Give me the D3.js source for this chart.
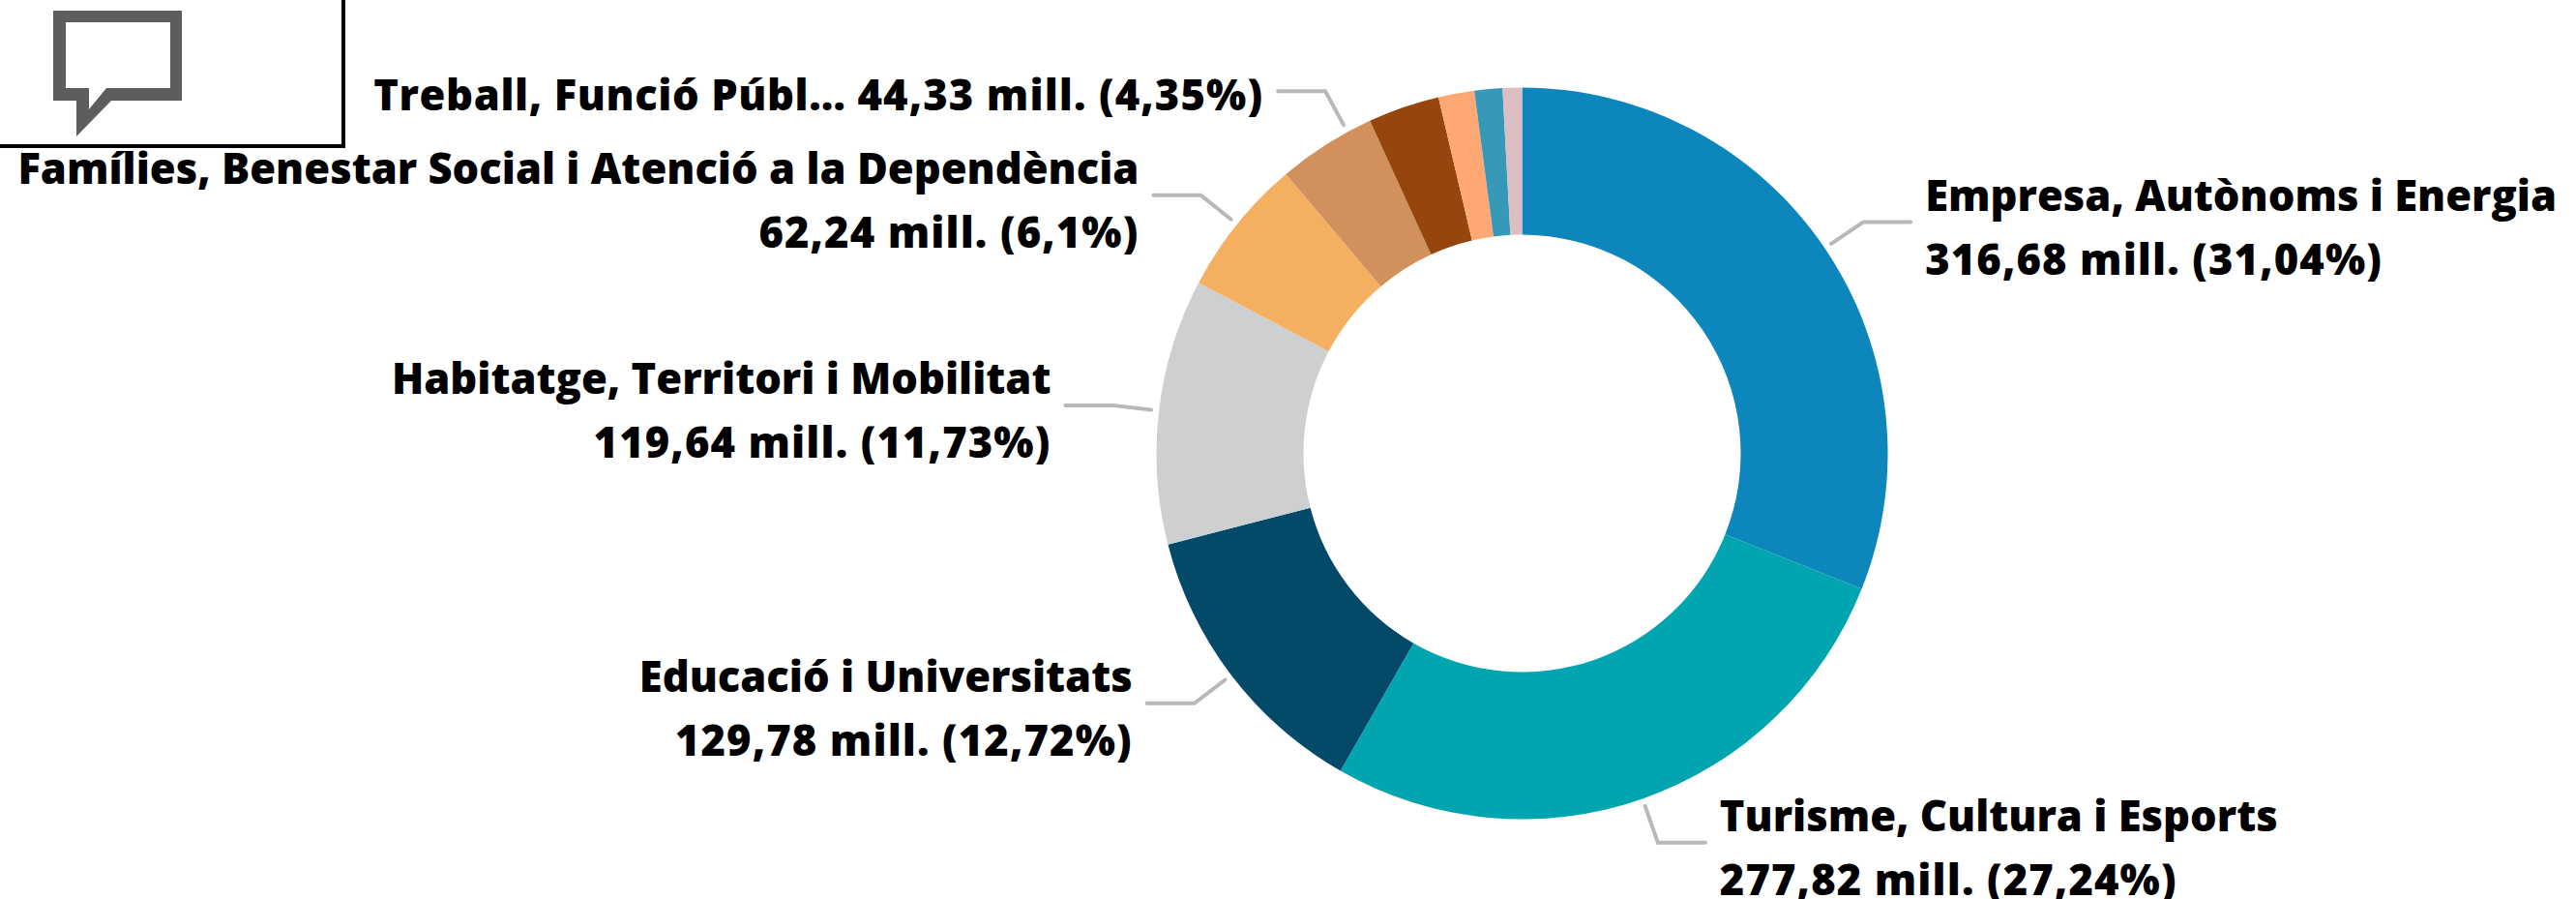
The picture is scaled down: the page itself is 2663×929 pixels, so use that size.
<!DOCTYPE html>
<html><head><meta charset="utf-8">
<script src="https://cdn.jsdelivr.net/npm/d3@7/dist/d3.min.js"></script>
<style>html,body{margin:0;padding:0;background:#fff;overflow:hidden}</style>
</head><body><svg id="c" width="2663" height="929"></svg>
<script>
const categories=["Empresa, Autònoms i Energia","Turisme, Cultura i Esports","Educació i Universitats","Habitatge, Territori i Mobilitat","Famílies, Benestar Social i Atenció a la Dependència","Treball, Funció Públ…","Salut","Acció Exterior","Justícia","Altres"];
const values=[316.68,277.82,129.78,119.64,62.24,44.33,32.2,16.2,12.6,8.7];
const valueLabels=["316,68 mill. (31,04%)","277,82 mill. (27,24%)","129,78 mill. (12,72%)","119,64 mill. (11,73%)","62,24 mill. (6,1%)","44,33 mill. (4,35%)"];
const colors=["#0d87bb","#00a5b0","#024a68","#cdcfd1","#f4b060","#d2905d","#96450c","#ffa874","#3799b8","#dcbfc3"];
const oneLine=[false,false,false,false,false,true];
const leaderNudge=[0,0,0,0,0,0.068];

const svg=d3.select("#c");
const cx=1573.5,cy=468.5,R=378,r=226;
const g=svg.append("g").attr("transform",`translate(${cx},${cy})`);
const pie=d3.pie().sort(null).value(d=>d)(values);
const arc=d3.arc().innerRadius(r).outerRadius(R);
g.selectAll("path.s").data(pie).join("path").attr("class","s").attr("d",arc).attr("fill",(d,i)=>colors[i]);

const font="'Open Sans',sans-serif",fs=43.5,lh=66,vs=1.1;
pie.slice(0,valueLabels.length).forEach((d,i)=>{
  const a=(d.startAngle+d.endAngle)/2+leaderNudge[i];
  const s=Math.sin(a),c=-Math.cos(a);
  const p0=[(R+8)*s,(R+8)*c],p1=[(R+48)*s,(R+48)*c];
  const dir=s>=0?1:-1;
  const p2=[p1[0]+dir*49,p1[1]];
  g.append("path").attr("d",d3.line()([p0,p1,p2])).attr("fill","none").attr("stroke","#b8b8b8").attr("stroke-width",4).attr("stroke-linecap","round");
  const tx=p2[0]+dir*15;
  const t=g.append("text").attr("x",tx).attr("text-anchor",dir>0?"start":"end")
    .attr("font-family",font).attr("font-weight",800).attr("font-size",fs).attr("fill","#000");
  if(oneLine[i]){
    t.attr("y",p2[1]+20);
    t.append("tspan").attr("letter-spacing",0.6).text(categories[i]+" ");
    t.append("tspan").attr("letter-spacing",vs).text(valueLabels[i]);
  }else{
    t.append("tspan").attr("x",tx).attr("y",p2[1]-12).text(categories[i]);
    t.append("tspan").attr("x",tx).attr("y",p2[1]-12+lh).attr("letter-spacing",vs).text(valueLabels[i]);
  }
});

// comment button
svg.append("path").attr("d","M0,151H355V0").attr("fill","none").attr("stroke","#000").attr("stroke-width",4);
svg.append("path").attr("fill","#5f5d5b").attr("fill-rule","evenodd")
 .attr("d","M55,11H188V104H115L79,141V104H55ZM68,23V91H92V113L110,91H176V23Z");
</script></body></html>
